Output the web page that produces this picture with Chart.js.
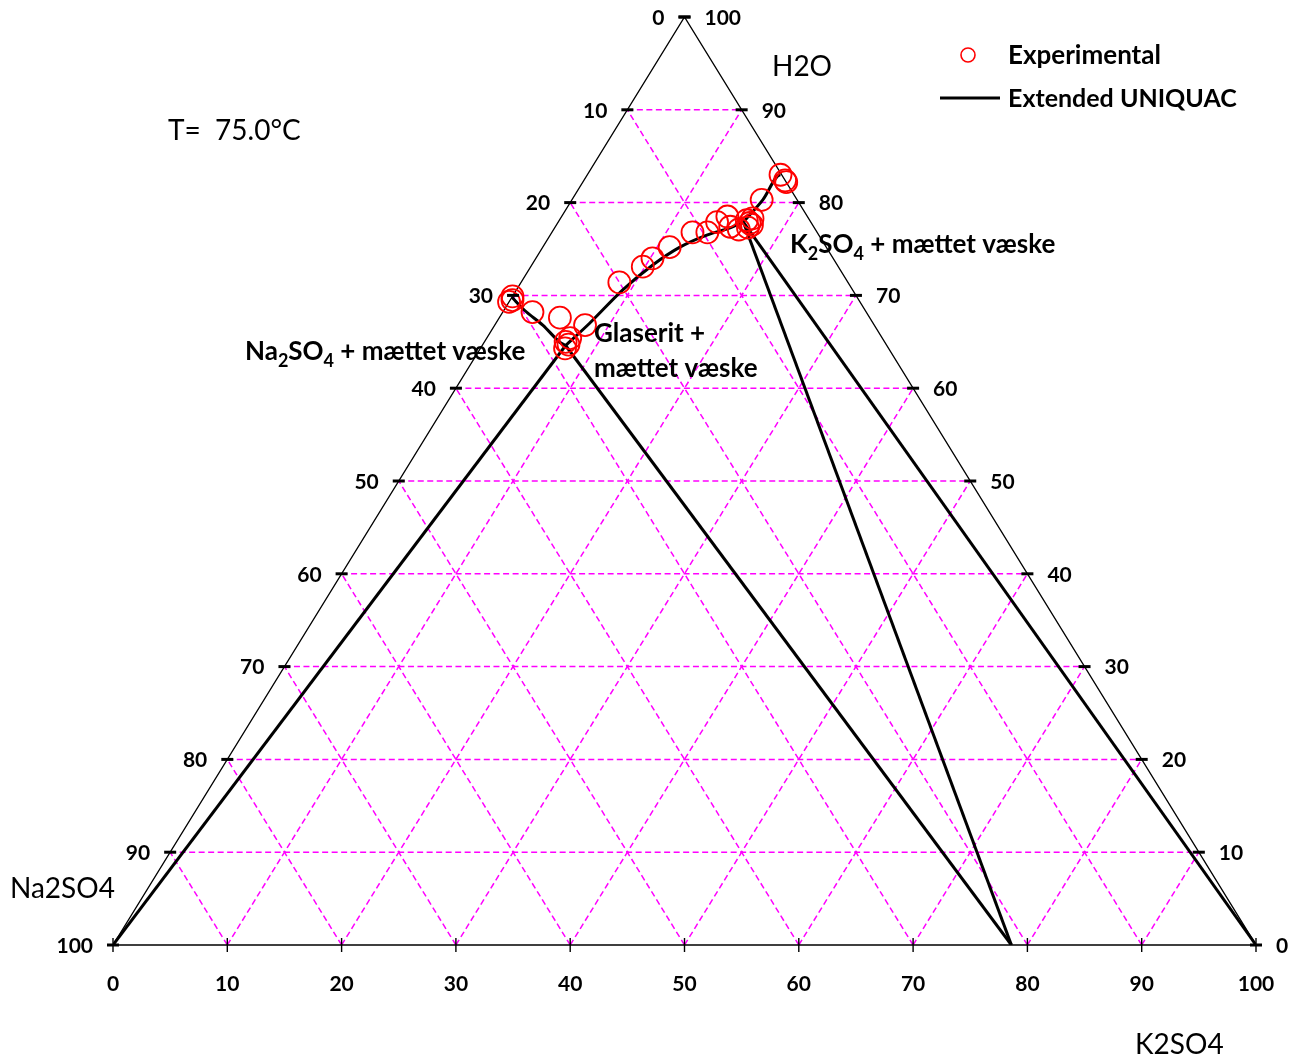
<!DOCTYPE html>
<html>
<head>
<meta charset="utf-8">
<title>Na2SO4 - K2SO4 - H2O ved 75 °C</title>
<script src="https://cdn.jsdelivr.net/npm/chart.js@4.4.1/dist/chart.umd.min.js"></script>
<style>
  html, body { margin: 0; padding: 0; background: #fff; }
  #wrap { width: 1300px; height: 1059px; }
</style>
</head>
<body>
<div id="wrap"><canvas id="ternary" width="1300" height="1059"></canvas></div>
<script>
// all compositions in wt% : H2O and K2SO4 (Na2SO4 = rest)
const gridTicks = [10, 20, 30, 40, 50, 60, 70, 80, 90];
const edgeTicks = [0, 10, 20, 30, 40, 50, 60, 70, 80, 90, 100];

const expH2O   = [83.0, 82.4, 82.2, 80.3, 78.3, 78.1, 77.8, 77.6, 77.3, 77.1, 78.5, 77.4, 77.9, 76.8, 76.8, 75.2, 74.0, 73.1, 71.4, 69.9, 69.3, 69.5, 68.2, 67.6, 66.8, 65.0, 64.7, 65.4, 64.3];
const expK2SO4 = [16.9, 17.6, 17.8, 16.6, 16.8, 16.4, 16.8, 17.1, 16.9, 16.2, 14.5, 15.3, 13.9, 13.6, 12.3, 11.1, 10.2, 9.8, 8.6, 0.0, 0.0, 0.2, 2.6, 5.3, 7.9, 7.1, 7.5, 7.3, 7.4];

// Extended UNIQUAC solubility curve, one branch per solid phase
const naBranchH2O   = [69.8, 68.4, 66.8, 64.9, 64.6];
const naBranchK2SO4 = [0.0, 1.8, 4.2, 6.7, 7.3];
const glBranchH2O   = [64.6, 67.0, 70.6, 73.3, 75.2, 76.5, 77.3, 77.9];
const glBranchK2SO4 = [7.3, 8.2, 9.3, 10.6, 12.0, 13.7, 15.4, 16.2];
const kBranchH2O    = [77.9, 80.3, 83.0, 83.3];
const kBranchK2SO4  = [16.2, 16.7, 16.9, 16.7];

// tie lines, [H2O, K2SO4] pairs
const glaseritK2SO4 = 78.6;
const tieLines = [
  [[0, 0], [64.6, 7.3]],
  [[0, glaseritK2SO4], [64.6, 7.3]],
  [[0, glaseritK2SO4], [77.9, 16.2]],
  [[0, 100], [77.9, 16.2]]
];

const FONT = 'Lato, "Open Sans", sans-serif';

function toXY(h, k) {
  return { x: k + h / 2, y: h };
}

const datasets = [];

datasets.push({
  label: 'Experimental',
  data: expH2O.map((h, i) => toXY(h, expK2SO4[i])),
  showLine: false,
  pointRadius: 11,
  pointBorderWidth: 1.8,
  pointBorderColor: '#ff0000',
  pointBackgroundColor: 'rgba(0,0,0,0)',
  order: 0,
  clip: false
});

[[naBranchH2O, naBranchK2SO4], [glBranchH2O, glBranchK2SO4], [kBranchH2O, kBranchK2SO4]].forEach(br => {
  datasets.push({
    label: 'Extended UNIQUAC',
    data: br[0].map((h, i) => toXY(h, br[1][i])),
    showLine: true,
    borderColor: '#000',
    borderWidth: 3,
    pointRadius: 0,
    cubicInterpolationMode: 'monotone',
    order: 1
  });
});

tieLines.forEach(seg => {
  datasets.push({
    label: 'tie',
    data: seg.map(p => toXY(p[0], p[1])),
    showLine: true,
    borderColor: '#000',
    borderWidth: 3,
    pointRadius: 0,
    order: 1
  });
});

// triangle edges
datasets.push({
  label: 'edge',
  data: [toXY(0, 0), toXY(100, 0), toXY(0, 100), toXY(0, 0)],
  showLine: true,
  borderColor: '#000',
  borderWidth: 1.4,
  pointRadius: 0,
  order: 2,
  clip: false
});

// dashed grid
gridTicks.forEach(t => {
  const grid = [
    [toXY(t, 0), toXY(t, 100 - t)],          // constant H2O
    [toXY(0, t), toXY(100 - t, t)],          // constant K2SO4
    [toXY(0, 100 - t), toXY(100 - t, 0)]     // constant Na2SO4
  ];
  grid.forEach(line => {
    datasets.push({
      label: 'grid',
      data: line,
      showLine: true,
      borderColor: '#ff00ff',
      borderWidth: 1.5,
      borderDash: [6, 3.5],
      pointRadius: 0,
      order: 3
    });
  });
});

function drawSubText(ctx, parts, x, y, size) {
  let cx = x;
  parts.forEach(p => {
    const sub = p[1];
    ctx.font = 'bold ' + (sub ? Math.round(size * 0.68) : size) + 'px ' + FONT;
    ctx.fillText(p[0], cx, sub ? y + size * 0.28 : y);
    cx += ctx.measureText(p[0]).width;
  });
}

const decorations = {
  id: 'decorations',
  afterDatasetsDraw(chart) {
    const ctx = chart.ctx;
    const xs = chart.scales.x, ys = chart.scales.y;
    const px = (h, k) => xs.getPixelForValue(k + h / 2);
    const py = h => ys.getPixelForValue(h);

    ctx.save();
    ctx.fillStyle = '#000';
    ctx.strokeStyle = '#000';

    // ticks and tick labels
    ctx.font = 'bold 21px ' + FONT;
    ctx.textBaseline = 'middle';
    edgeTicks.forEach(v => {
      // left edge: Na2SO4, 0 at top
      const hl = 100 - v;
      const lx = px(hl, 0), ly = py(hl);
      ctx.lineWidth = 3;
      ctx.beginPath(); ctx.moveTo(lx - 6, ly); ctx.lineTo(lx + 6, ly); ctx.stroke();
      ctx.textAlign = 'right';
      ctx.fillText(String(v), lx - 20, ly + 1);

      // right edge: H2O
      const rx = px(v, 100 - v), ry = py(v);
      ctx.beginPath(); ctx.moveTo(rx - 6, ry); ctx.lineTo(rx + 6, ry); ctx.stroke();
      ctx.textAlign = 'left';
      ctx.fillText(String(v), rx + 20, ry + 1);

      // bottom: K2SO4
      const bx = px(0, v), by = py(0);
      ctx.lineWidth = 1.4;
      ctx.beginPath(); ctx.moveTo(bx, by - 7); ctx.lineTo(bx, by + 7); ctx.stroke();
      ctx.textAlign = 'center';
      ctx.fillText(String(v), bx, by + 39);
    });

    // component names
    ctx.font = '28px ' + FONT;
    ctx.textAlign = 'left';
    ctx.fillText('H2O', 772, 67);
    ctx.fillText('Na2SO4', 10, 889);
    ctx.fillText('K2SO4', 1135, 1045);
    ctx.fillText('T=  75.0\u00B0C', 168, 131);

    // legend
    ctx.lineWidth = 1.6;
    ctx.strokeStyle = '#ff0000';
    ctx.beginPath(); ctx.arc(968, 55, 7, 0, Math.PI * 2); ctx.stroke();
    ctx.strokeStyle = '#000';
    ctx.lineWidth = 3;
    ctx.beginPath(); ctx.moveTo(940, 98); ctx.lineTo(1000, 98); ctx.stroke();
    ctx.font = 'bold 26px ' + FONT;
    ctx.fillText('Experimental', 1008, 56);
    ctx.font = 'bold 25px ' + FONT;
    ctx.fillText('Extended UNIQUAC', 1008, 99);

    // region labels
    ctx.textBaseline = 'alphabetic';
    drawSubText(ctx, [['K'], ['2', true], ['SO'], ['4', true], [' + m\u00E6ttet v\u00E6ske']], 790, 253, 26);
    drawSubText(ctx, [['Na'], ['2', true], ['SO'], ['4', true], [' + m\u00E6ttet v\u00E6ske']], 245, 360, 26);
    drawSubText(ctx, [['Glaserit +']], 594, 342, 26);
    drawSubText(ctx, [['m\u00E6ttet v\u00E6ske']], 594, 377, 26);

    ctx.restore();
  }
};

new Chart(document.getElementById('ternary'), {
  type: 'scatter',
  data: { datasets: datasets },
  options: {
    responsive: false,
    animation: false,
    layout: { padding: { left: 113, right: 44, top: 17, bottom: 114 } },
    scales: {
      x: { type: 'linear', min: 0, max: 100, display: false },
      y: { type: 'linear', min: 0, max: 100, display: false }
    },
    plugins: {
      legend: { display: false },
      tooltip: { enabled: false }
    }
  },
  plugins: [decorations]
});
</script>
</body>
</html>
